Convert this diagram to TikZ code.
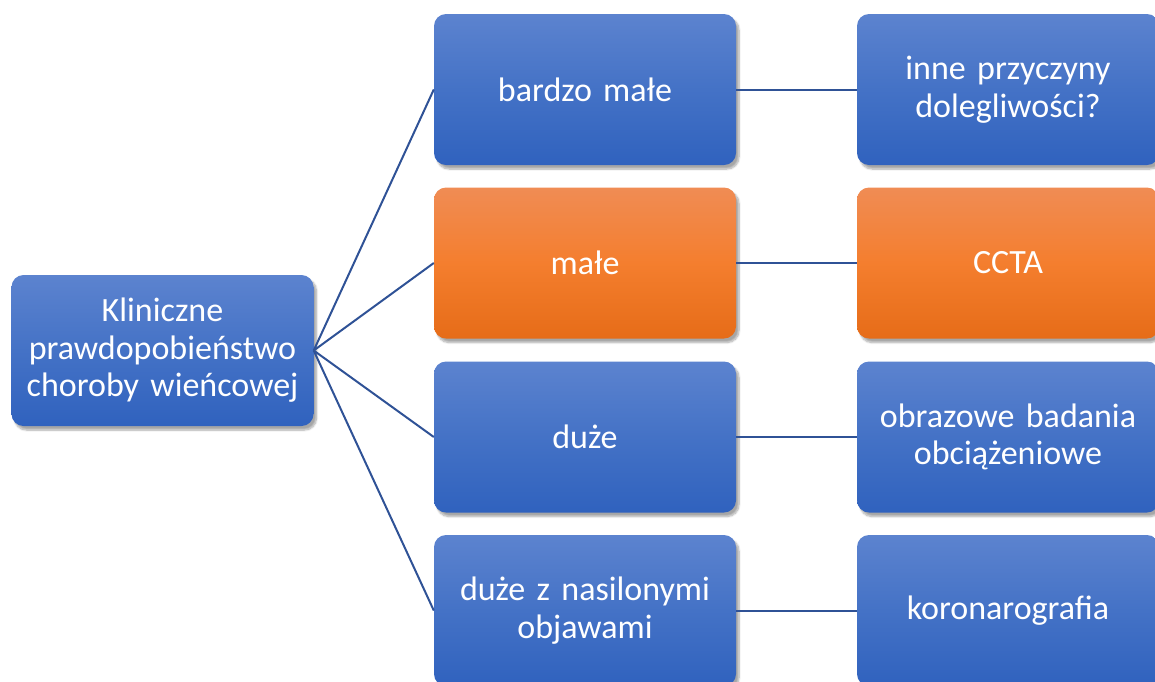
\documentclass[tikz,border=0pt]{standalone}
\usepackage{fontspec}
\setmainfont{Carlito}
\usetikzlibrary{shadows.blur}
\definecolor{bluetop}{RGB}{92,131,207}
\definecolor{bluemid}{RGB}{68,114,198}
\definecolor{bluebot}{RGB}{48,98,190}
\definecolor{ortop}{RGB}{240,140,84}
\definecolor{ormid}{RGB}{244,126,46}
\definecolor{orbot}{RGB}{230,108,24}
\definecolor{linec}{RGB}{47,82,150}
\tikzset{
  box/.style={rectangle, rounded corners=12pt, minimum width=302pt, minimum height=151pt,
    inner sep=4pt, align=center, text width=294pt, text=white,
    font=\fontsize{34}{37.5}\selectfont,
    blur shadow={shadow xshift=3pt, shadow yshift=-4pt, shadow blur steps=8, shadow blur extra rounding=2pt, shadow opacity=35}},
  bluebox/.style={box, top color=bluetop, bottom color=bluebot, middle color=bluemid},
  orbox/.style={box, top color=ortop, bottom color=orbot, middle color=ormid},
  conn/.style={draw=linec, line width=2pt}
}
\begin{document}
\begin{tikzpicture}[x=1pt,y=-1pt]
\useasboundingbox (0,0) rectangle (1155,681);
\clip (0,0) rectangle (1155,681);
\node[bluebox] (root) at (162.5,350.5) {Kliniczne\\prawdopobieństwo\\choroby wieńcowej};
\node[bluebox] (m1) at (585,89.5) {bardzo małe};
\node[orbox]   (m2) at (585,263) {małe};
\node[bluebox] (m3) at (585,437) {duże};
\node[bluebox] (m4) at (585,610.5) {duże z nasilonymi\\objawami};
\node[bluebox] (r1) at (1008,89.5) {inne przyczyny\\dolegliwości?};
\node[orbox]   (r2) at (1008,263) {CCTA};
\node[bluebox] (r3) at (1008,437) {obrazowe badania\\obciążeniowe};
\node[bluebox] (r4) at (1008,610.5) {koronarografia};
\foreach \i in {1,2,3,4}{
  \draw[conn] (root.east) -- (m\i.west);
  \draw[conn] (m\i.east) -- (r\i.west);
}
\end{tikzpicture}
\end{document}
